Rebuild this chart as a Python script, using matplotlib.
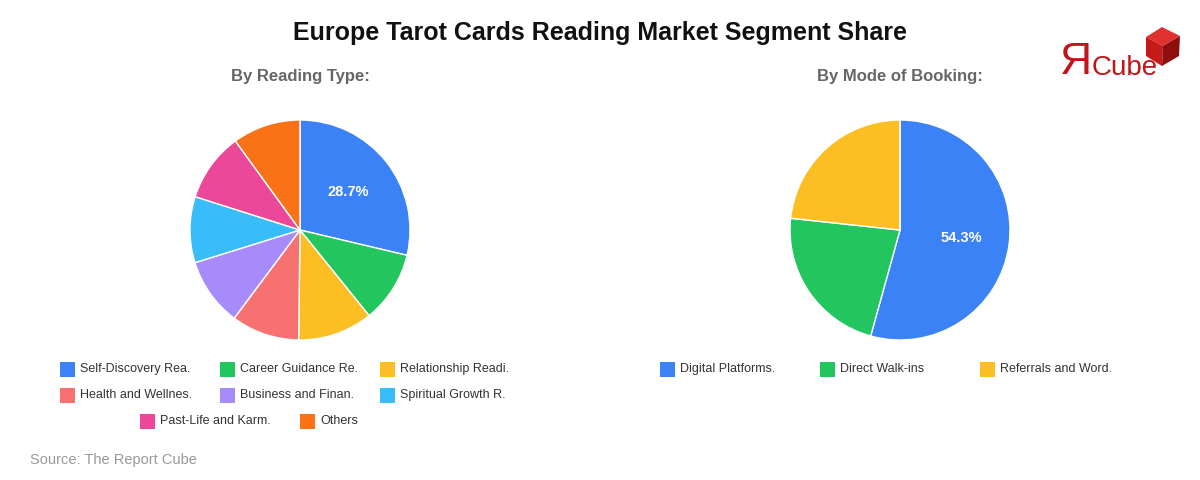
import matplotlib
matplotlib.use("Agg")
import matplotlib.pyplot as plt
from matplotlib.patches import Rectangle, Polygon

plt.rcParams['font.family'] = ['Liberation Sans', 'DejaVu Sans']

title = "Europe Tarot Cards Reading Market Segment Share"
left_title = "By Reading Type:"
right_title = "By Mode of Booking:"
source = "Source: The Report Cube"

reading_labels = ["Self-Discovery Rea.", "Career Guidance Re.", "Relationship Readi.",
                  "Health and Wellnes.", "Business and Finan.", "Spiritual Growth R.",
                  "Past-Life and Karm.", "Others"]
reading_values = [28.7, 10.5, 11.0, 10.0, 10.0, 9.7, 10.1, 10.0]
reading_colors = ["#3b82f6", "#22c55e", "#fbbf24", "#f87171", "#a78bfa", "#38bdf8",
                  "#ec4899", "#f97316"]

booking_labels = ["Digital Platforms.", "Direct Walk-ins", "Referrals and Word."]
booking_values = [54.3, 22.4, 23.3]
booking_colors = ["#3b82f6", "#22c55e", "#fbbf24"]

W, H = 1200, 480
fig = plt.figure(figsize=(12, 4.8), dpi=100)
fig.patch.set_facecolor("white")


def px_axes(x0, y0, w, h):
    return fig.add_axes([x0 / W, 1 - (y0 + h) / H, w / W, h / H])


def pct_fmt(p):
    return f"{p:.1f}%" if p > 25 else ""


def draw_pie(cx, cy, r, values, colors):
    ax = px_axes(cx - r, cy - r, 2 * r, 2 * r)
    ax.pie(values, colors=colors, startangle=90, counterclock=False,
           autopct=pct_fmt, pctdistance=0.56,
           wedgeprops=dict(edgecolor="white", linewidth=1),
           textprops=dict(color="white", fontsize=10.5, fontweight="bold"),
           radius=1.0)
    ax.set_xlim(-1.0, 1.0)
    ax.set_ylim(-1.0, 1.0)
    ax.set_aspect("equal")
    ax.axis("off")
    return ax


draw_pie(300, 230, 110, reading_values, reading_colors)
draw_pie(900, 230, 110, booking_values, booking_colors)

# overlay axes in pixel coordinates
ov = fig.add_axes([0, 0, 1, 1], zorder=-1)
ov.set_xlim(0, W)
ov.set_ylim(H, 0)
ov.axis("off")

ov.text(600, 33, title, ha="center", va="center", fontsize=18, fontweight="bold",
        color="#111111")
ov.text(300, 77, left_title, ha="center", va="center", fontsize=12, fontweight="bold",
        color="#666666")
ov.text(900, 77, right_title, ha="center", va="center", fontsize=12, fontweight="bold",
        color="#666666")
ov.text(30, 460, source, ha="left", va="center", fontsize=10.5, color="#999999")


def legend_item(x, y, label, color):
    ov.add_patch(Rectangle((x, y - 7.5), 15, 15, facecolor=color, edgecolor="none"))
    ov.text(x + 20, y, label, ha="left", va="center", fontsize=9, color="#333333")


left_cols = [60, 220, 380]
rows_y = [369, 395, 421]
for i, (lab, col) in enumerate(zip(reading_labels, reading_colors)):
    if i < 6:
        legend_item(left_cols[i % 3], rows_y[i // 3], lab, col)
    else:
        legend_item([140, 300][i - 6], rows_y[2], lab, col)

right_cols = [660, 820, 980]
for i, (lab, col) in enumerate(zip(booking_labels, booking_colors)):
    legend_item(right_cols[i], rows_y[0], lab, col)

# logo
ov.text(1060, 63, "Я", ha="left", va="center", fontsize=32, color="#c0161b")
ov.text(1092, 68, "Cube", ha="left", va="center", fontsize=20, color="#c0161b")
top = (1162, 27); ur = (1180, 36); lr = (1179, 56); bot = (1162, 66)
ll = (1146, 56); ul = (1146, 37); c = (1163, 46)
ov.add_patch(Polygon([top, ur, c, ul], closed=True, facecolor="#e0302f", edgecolor="none", zorder=3))
ov.add_patch(Polygon([ul, c, bot, ll], closed=True, facecolor="#c41a1a", edgecolor="none", zorder=3))
ov.add_patch(Polygon([c, ur, lr, bot], closed=True, facecolor="#8e0d0d", edgecolor="none", zorder=3))

fig.savefig("out.png", dpi=100, facecolor="white")
